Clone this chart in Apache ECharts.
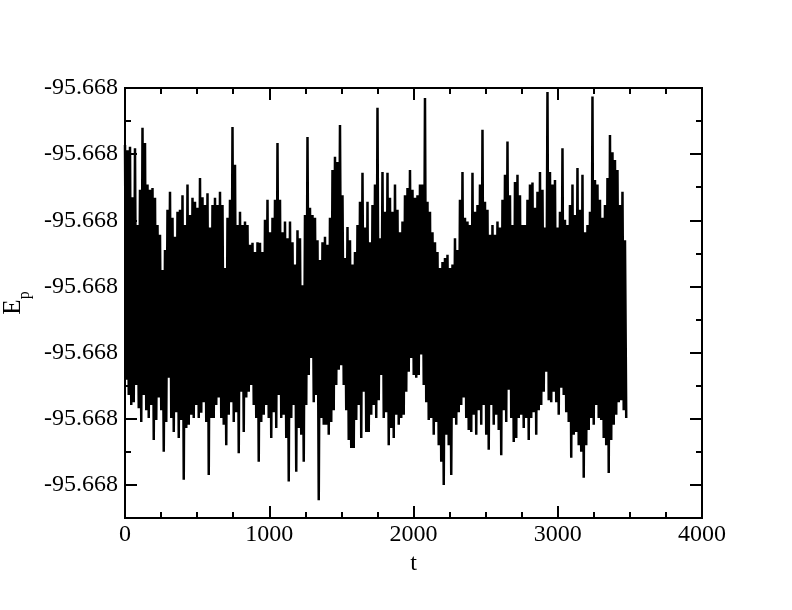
<!DOCTYPE html>
<html><head><meta charset="utf-8">
<script src="https://cdn.jsdelivr.net/npm/echarts@6/dist/echarts.min.js"></script>
<style>html,body{margin:0;padding:0;background:#fff}#c{width:792px;height:610px}</style>
</head><body><div id="c"></div>
<script>
// Sample spacing (time units) of the read-off envelope columns
const DT = 17.33;
// Upper extremes of E_p per column (units: 1 major tick = 10)
const hi = [
51.4,50.6,51.1,43.5,50.9,39.3,44.6,54.0,51.7,45.4,44.6,44.9,43.4,39.3,37.8,32.5,35.5,41.6,44.3,40.4,
37.5,41.3,41.6,43.8,39.3,45.4,40.8,43.4,42.8,41.9,46.4,43.5,42.3,44.1,38.9,42.3,43.4,42.3,44.3,42.3,
32.8,40.4,43.1,54.1,48.4,39.3,41.3,39.3,39.8,39.3,36.3,36.6,35.2,36.7,36.6,35.2,40.1,43.1,38.2,40.4,
43.1,51.7,43.1,38.2,39.8,37.3,39.8,36.7,33.3,38.5,37.3,30.2,40.8,52.6,41.9,40.8,40.4,37.0,34.0,36.7,
37.5,36.3,40.4,47.6,49.6,48.8,54.4,43.8,34.3,39.0,37.0,33.3,35.2,39.3,42.8,47.2,38.9,42.8,36.7,42.3,
45.4,57.0,37.3,47.3,41.3,47.2,43.4,41.3,45.4,41.6,38.2,39.8,43.8,44.9,47.6,44.6,43.4,43.8,45.4,45.4,
58.5,42.8,41.3,38.2,36.7,35.2,32.8,33.7,34.3,34.8,32.8,33.3,37.3,35.5,43.1,47.3,40.4,39.8,39.3,47.2,
41.3,42.3,45.4,53.7,42.8,41.6,37.8,39.3,37.8,39.8,38.9,43.1,46.9,51.9,43.8,39.3,45.8,46.9,43.8,39.3,
39.3,43.1,45.4,45.7,41.9,44.3,47.3,44.6,38.9,59.4,47.3,45.4,46.1,38.9,41.3,50.9,40.1,39.3,42.3,45.4,
40.8,47.9,41.6,46.9,38.2,39.3,41.3,58.7,46.1,45.4,43.1,40.4,42.3,46.4,52.9,50.3,49.1,47.6,42.3,44.3,
37.0
];
// Lower extremes of E_p per column
const lo = [
15.9,13.6,12.1,12.5,15.1,11.6,9.5,13.6,11.3,10.1,12.1,6.8,9.8,13.2,11.3,5.0,9.5,16.2,10.1,8.0,
11.0,7.1,9.8,0.8,8.6,9.1,10.6,10.1,12.1,10.1,10.9,12.5,9.5,1.5,10.1,10.1,12.1,13.2,10.1,9.1,
6.0,10.6,12.5,9.5,11.0,4.8,14.1,8.0,13.2,14.1,15.1,12.1,10.1,3.5,9.5,10.6,12.1,10.1,7.1,11.0,
8.6,13.6,10.1,10.6,7.1,0.5,10.1,12.1,2.0,8.6,7.6,3.5,12.1,16.6,19.2,12.5,13.6,-2.3,10.1,9.1,
9.1,7.6,9.5,11.3,15.1,17.4,18.1,15.1,11.3,6.8,5.6,5.6,9.8,12.1,7.1,14.1,8.0,8.0,10.6,12.1,
10.1,12.8,16.6,10.1,11.0,6.0,8.6,7.1,10.6,9.1,10.1,10.6,14.1,17.1,19.2,16.6,16.2,16.6,19.7,15.1,
12.5,9.8,10.1,7.6,9.5,6.0,3.5,0.0,7.6,6.0,1.5,10.1,9.1,11.0,12.1,13.2,10.1,8.3,8.0,10.6,
7.6,11.3,9.1,12.1,7.6,5.3,12.1,9.1,10.6,8.3,4.5,11.3,9.5,14.4,10.1,6.5,7.1,10.1,10.6,8.6,
10.1,6.8,10.1,11.0,7.6,11.3,12.1,14.1,17.1,12.8,12.5,14.1,12.5,10.6,14.7,13.6,11.0,9.5,4.1,7.6,
8.0,6.0,5.0,1.1,6.0,8.3,10.1,9.1,12.1,10.1,9.8,7.1,6.0,1.8,6.8,9.1,10.6,12.5,12.8,11.3,
10.1
];
const yTickLabel = '-95.668';
const xName = 't';
const yName = '{e|E}{p|p}';

const F = 'Liberation Serif';
const data = [];
for (let k = 0; k < hi.length; k++) {
  data.push([k * DT, hi[k]]);
  data.push([k * DT + DT / 2, lo[k]]);
}
const tickStyle = {color: '#000', width: 2};
function xAx(pos, labels) {
  return {
    type: 'value', position: pos, min: 0, max: 4000, interval: 1000,
    axisLine: {show: false, onZero: false},
    axisTick: {show: true, inside: true, length: 12, lineStyle: tickStyle},
    minorTick: {show: true, splitNumber: 4, length: 6, lineStyle: tickStyle},
    splitLine: {show: false}, minorSplitLine: {show: false},
    axisLabel: labels ? {fontFamily: F, fontSize: 24, color: '#000', margin: 5,
      formatter: v => String(v)} : {show: false},
    name: labels ? xName : '', nameLocation: 'middle', nameGap: 30,
    nameTextStyle: {fontFamily: F, fontSize: 24, color: '#000'}
  };
}
function yMajor(pos, labels) {
  const a = {
    type: 'value', position: pos, min: -5, max: 60, minInterval: 10, maxInterval: 10,
    axisLine: {show: false, onZero: false},
    axisTick: {show: true, inside: true, length: 12, lineStyle: tickStyle},
    splitLine: {show: false},
    axisLabel: labels ? {fontFamily: F, fontSize: 24, color: '#000', margin: 7, padding: [4, 0, 0, 0],
      formatter: v => (Math.abs(v % 10) < 1e-9 ? yTickLabel : '')} : {show: false}
  };
  if (labels) {
    a.name = yName; a.nameLocation = 'middle'; a.nameRotate = 90; a.nameGap = 92;
    a.nameTextStyle = {fontFamily: F, fontSize: 25, color: '#000', rich: {
      e: {fontFamily: F, fontSize: 25, color: '#000'},
      p: {fontFamily: F, fontSize: 16, color: '#000', padding: [24, 0, 0, 0]}
    }};
  }
  return a;
}
function yMinor(pos) {
  return {
    type: 'value', position: pos, min: -5, max: 60, interval: 5,
    axisLine: {show: false, onZero: false},
    axisTick: {show: true, inside: true, length: 6, lineStyle: tickStyle},
    splitLine: {show: false}, axisLabel: {show: false}
  };
}
const chart = echarts.init(document.getElementById('c'), null, {renderer: 'canvas'});
chart.setOption({
  animation: false,
  backgroundColor: '#fff',
  grid: {left: 125, right: 90, top: 88, bottom: 92, show: true, borderColor: '#000', borderWidth: 2,
    backgroundColor: 'transparent', containLabel: false, outerBoundsMode: 'none'},
  xAxis: [xAx('bottom', true), xAx('top', false)],
  yAxis: [yMajor('left', true), yMinor('left'), yMajor('right', false), yMinor('right')],
  series: [{
    type: 'line', xAxisIndex: 0, yAxisIndex: 0, data: data,
    showSymbol: false, symbol: 'none', sampling: null,
    lineStyle: {color: '#000', width: 2.5}, clip: true
  }]
});
</script></body></html>
